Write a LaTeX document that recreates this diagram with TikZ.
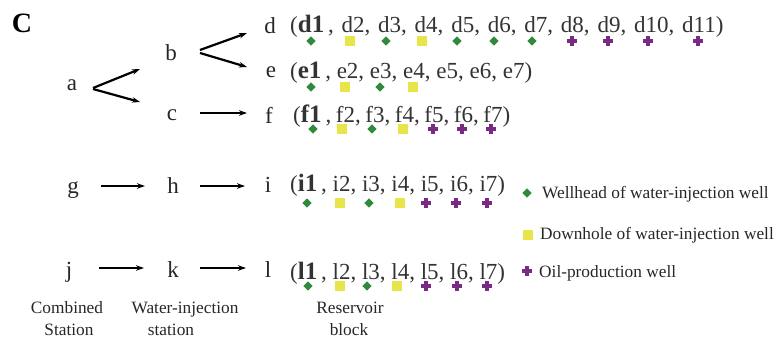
\documentclass[tikz,border=0pt]{standalone}
\usepackage{fontspec}
\setmainfont{Liberation Serif}
\usetikzlibrary{arrows.meta,shapes.geometric}
\definecolor{wgreen}{HTML}{2F8A3C}
\definecolor{wyellow}{HTML}{E8E54A}
\definecolor{wpurple}{HTML}{7A2A82}
\newcommand\bigfnt{\fontsize{23}{23}\selectfont}
\newcommand\fst[1]{{\fontsize{25}{25}\selectfont\bfseries #1}\,}
\newcommand\labfnt{\fontsize{17.3}{17.3}\selectfont}
\tikzset{
  x=1pt, y=-1pt,
  let/.style={anchor=base, inner sep=0pt, font=\bigfnt, text=black!85},
  row/.style={anchor=base west, inner sep=0pt, font=\bigfnt, text=black!80},
  lbl/.style={anchor=base, inner sep=0pt, font=\labfnt, text=black!85},
  leg/.style={anchor=base west, inner sep=0pt, font=\labfnt, text=black!85},
  arr/.style={line width=2.2pt, -{Stealth[length=8pt,width=5.5pt]}},
  mdia/.style={diamond, fill=wgreen, inner sep=0pt, minimum size=9.5pt},
  msq/.style={rectangle, fill=wyellow, inner sep=0pt, minimum size=10pt},
  mplus/.pic={\fill[wpurple] (-5,-1.6) rectangle (5,1.6); \fill[wpurple] (-1.6,-5) rectangle (1.6,5);}
}
\newcommand\rowmarks[2]{%
  \foreach \xx/\mk in {#2} {%
    \if D\mk\node[mdia] at (\xx,#1) {};\fi
    \if S\mk\node[msq] at (\xx,#1) {};\fi
    \if P\mk\pic at (\xx,#1) {mplus};\fi
  }}
\begin{document}
\begin{tikzpicture}
\useasboundingbox (0,0) rectangle (781,341);
\node[anchor=base, inner sep=0pt, font=\fontsize{28}{28}\selectfont\bfseries] (C) at (22,32) {C};
% letters
\node[let] (a) at (72,90) {a};
\node[let] (b) at (171,60) {b};
\node[let] (c) at (172,120) {c};
\node[let] (d) at (270,33) {d};
\node[let] (e) at (271,77) {e};
\node[let] (f) at (269,123) {f};
\node[let] (g) at (73,193) {g};
\node[let] (h) at (173,193) {h};
\node[let] (i) at (268,192) {i};
\node[let] (j) at (69,277) {j};
\node[let] (k) at (173,277) {k};
\node[let] (l) at (268,277) {l};
% arrows
\draw[arr] ([shift={(21,-2)}]a.base) -- ([shift={(-31,9)}]b.base);
\draw[arr] ([shift={(21,-1)}]a.base) -- ([shift={(-32,-18)}]c.base);
\draw[arr] ([shift={(29,-10)}]b.base) -- ([shift={(-23,0)}]d.base);
\draw[arr] ([shift={(29,-7)}]b.base) -- ([shift={(-24,-10)}]e.base);
\draw[arr] ([shift={(28,-7)}]c.base) -- ([shift={(-22,-10)}]f.base);
\draw[arr] ([shift={(28,-7)}]g.base) -- ([shift={(-28,-7)}]h.base);
\draw[arr] ([shift={(27,-7)}]h.base) -- ([shift={(-23,-6)}]i.base);
\draw[arr] ([shift={(30,-9)}]j.base) -- ([shift={(-29,-9)}]k.base);
\draw[arr] ([shift={(27,-9)}]k.base) -- ([shift={(-22,-9)}]l.base);
% rows
\node[row] (rd) at (290,32) {\spaceskip=7.8pt (\fst{d1}, d2, d3, d4, d5, d6, d7, d8, d9, d10, d11)};
\node[row] (re) at (290,78) {(\fst{e1}, e2, e3, e4, e5, e6, e7)};
\node[row] (rf) at (293,122) {\spaceskip=4.6pt (\fst{f1}, f2, f3, f4, f5, f6, f7)};
\node[row] (ri) at (290,191) {(\fst{i1}, i2, i3, i4, i5, i6, i7)};
\node[row] (rl) at (290,279) {(\fst{l1}, l2, l3, l4, l5, l6, l7)};
% markers
\rowmarks{41}{311/D,350/S,386/D,422/S,457/D,494/D,532/D,572/P,608/P,648/P,698/P}
\rowmarks{87}{311/D,345/S,380/D,413/S}
\rowmarks{129}{313/D,342/S,372/D,403/S,433/P,462/P,491/P}
\rowmarks{203}{307/D,340/S,369/D,400/S,426/P,456/P,487/P}
\rowmarks{286}{308/D,340/S,367/D,397/S,426/P,457/P,487/P}
% legend
\node[mdia] (l1m) at (527,193) {};
\node[leg] (l1t) at (542,198) {Wellhead of water-injection well};
\node[msq] (l2m) at (528,235) {};
\node[leg] (l2t) at (540,239) {Downhole of water-injection well};
\pic at (527,271) {mplus};
\node[leg] (l3t) at (539,277) {Oil-production well};
% bottom labels
\node[lbl] (cs1) at (67,313) {Combined};
\node[lbl] (cs2) at (69,335) {Station};
\node[lbl] (ws1) at (185,313) {Water-injection};
\node[lbl] (ws2) at (171,335) {station};
\node[lbl] (rb1) at (350,313) {Reservoir};
\node[lbl] (rb2) at (349,335) {block};
\end{tikzpicture}
\end{document}
